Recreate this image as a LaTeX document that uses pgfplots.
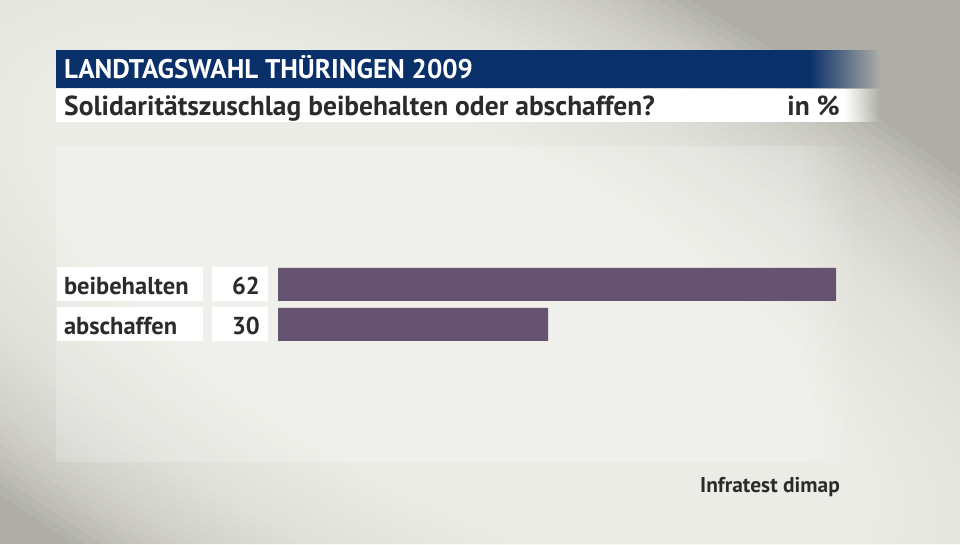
\documentclass[border=0pt]{standalone}
\usepackage{pgfplots}
\pgfplotsset{compat=1.18}
\usepackage{fontspec}
\setmainfont{PT Sans}
\usetikzlibrary{fadings}
\definecolor{bglight}{RGB}{248,248,243}
\definecolor{bgdark}{RGB}{174,174,166}
\definecolor{titleblue}{RGB}{10,48,106}
\definecolor{barpurple}{RGB}{102,83,112}
\definecolor{txt}{RGB}{43,43,43}
\begin{document}
\begin{tikzpicture}[x=1pt,y=1pt]
\useasboundingbox (0,0) rectangle (960,544);
\begin{scope}
\clip (0,0) rectangle (960,544);
\fill[bgdark] (0,0) rectangle (960,544);
\begin{scope}[shift={(450,230)}, rotate=-28]
\foreach \s in {1.00,0.98,...,0.28}
  \fill[bglight, opacity=0.08] (0,0) ellipse ({1000*\s} and {390*\s});
\end{scope}
\end{scope}
% panel
\fill[white, opacity=0.2] (56,82) rectangle (800,398);
\fill[white, opacity=0.2, path fading=east] (800,82) rectangle (860,398);
% title bar
\fill[titleblue] (56,456) rectangle (810,494);
\fill[titleblue, path fading=east] (809,456) rectangle (880,494);
\node[anchor=base west, text=white, inner sep=0, font=\fontsize{27}{31}\selectfont\bfseries] at (64,465) {LANDTAGSWAHL THÜRINGEN 2009};
% subtitle bar
\fill[white] (56,422) rectangle (845,455);
\fill[white, path fading=east] (844,422) rectangle (880,455);
\node[anchor=base west, text=txt, inner sep=0, font=\fontsize{27.5}{31}\selectfont\bfseries] at (64,428) {Solidaritätszuschlag beibehalten oder abschaffen?};
\node[anchor=base east, text=txt, inner sep=0, font=\fontsize{27.5}{31}\selectfont\bfseries] at (840,428) {in \%};
% label boxes
\fill[white] (57,243) rectangle (203,277);
\fill[white] (212,243) rectangle (268,277);
\fill[white] (57,203) rectangle (203,237);
\fill[white] (212,203) rectangle (268,237);
% source
\node[anchor=base east, text=txt, inner sep=0, font=\fontsize{21.4}{25}\selectfont\bfseries] at (840,52) {Infratest dimap};
\begin{axis}[
  width=960pt, height=544pt, scale only axis,
  anchor=south west, at={(0,0)},
  hide axis, clip=false,
  xmin=-30.8889, xmax=75.7778, ymin=0, ymax=544,
]
\addplot[xbar, bar width=33pt, fill=barpurple, draw=none] coordinates {(62,259.5) (30,219.5)};
\addplot[draw=none, mark=none, nodes near coords, point meta=explicit symbolic,
  nodes near coords align={anchor=base east},
  every node near coord/.append style={anchor=base east, inner sep=0, text=txt, font=\fontsize{24.5}{28}\selectfont\bfseries}]
  coordinates {(-2,249) [62] (-2,209) [30]};
\addplot[draw=none, mark=none, nodes near coords, point meta=explicit symbolic,
  nodes near coords align={anchor=base west},
  every node near coord/.append style={anchor=base west, inner sep=0, text=txt, font=\fontsize{24.5}{28}\selectfont\bfseries}]
  coordinates {(-23.8,249) [beibehalten] (-23.8,209) [abschaffen]};
\end{axis}
\end{tikzpicture}
\end{document}
